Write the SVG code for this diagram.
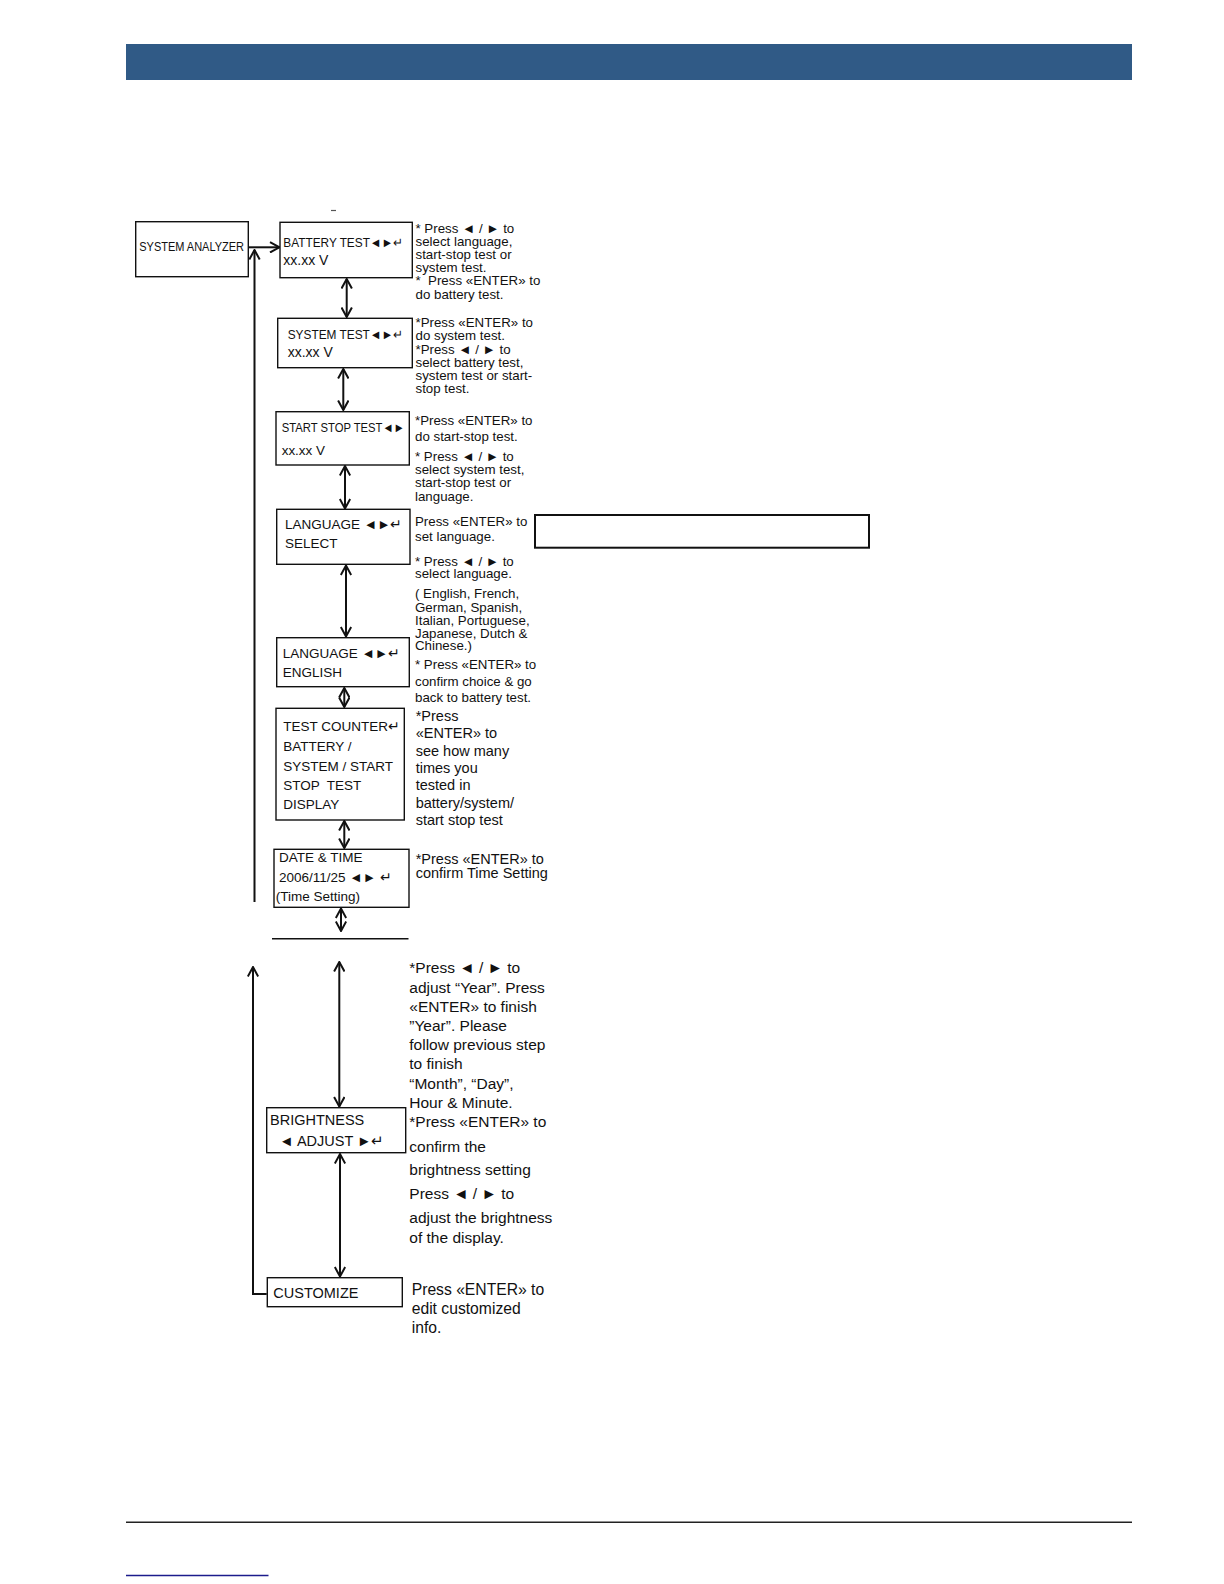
<svg xmlns="http://www.w3.org/2000/svg" width="1224" height="1584" viewBox="0 0 1224 1584">
<style>
.box{fill:#fff;stroke:#111;stroke-width:1.4}
.t{font-family:"Liberation Sans",Arial,sans-serif;fill:#111}
.n13{font-size:13px}
.n135{font-size:13.5px}
.n145{font-size:14.5px}
.s1{font-size:13.3px}
.s2{font-size:14.5px}
.s3{font-size:15.5px}
.c{fill:none;stroke:#111;stroke-width:2}
</style>
<defs>
<marker id="ah" viewBox="0 0 12 12" refX="11" refY="6" markerWidth="12" markerHeight="12" markerUnits="userSpaceOnUse" orient="auto-start-reverse">
<path d="M1.5,0.8 L11,6 L1.5,11.2" fill="none" stroke="#111" stroke-width="2"/>
</marker>
</defs>
<rect x="126" y="44" width="1006" height="36" fill="#305A86"/>
<line x1="331" y1="210.5" x2="336" y2="210.5" stroke="#555" stroke-width="1.2"/>

<g id="connectors">
<line class="c" x1="248.5" y1="247.3" x2="279.5" y2="247.3" marker-end="url(#ah)"/>
<line class="c" x1="254.5" y1="902" x2="254.5" y2="250" marker-end="url(#ah)"/>
<polyline class="c" points="266.7,1294 253,1294 253,967" marker-end="url(#ah)"/>
<line class="c" x1="346.7" y1="279" x2="346.7" y2="317" marker-start="url(#ah)" marker-end="url(#ah)"/>
<line class="c" x1="343.3" y1="369" x2="343.3" y2="410" marker-start="url(#ah)" marker-end="url(#ah)"/>
<line class="c" x1="345" y1="466" x2="345" y2="508.5" marker-start="url(#ah)" marker-end="url(#ah)"/>
<line class="c" x1="346" y1="565.5" x2="346" y2="636.5" marker-start="url(#ah)" marker-end="url(#ah)"/>
<line class="c" x1="344.3" y1="688" x2="344.3" y2="707" marker-start="url(#ah)" marker-end="url(#ah)"/>
<line class="c" x1="344.3" y1="821" x2="344.3" y2="848" marker-start="url(#ah)" marker-end="url(#ah)"/>
<line class="c" x1="341" y1="908.5" x2="341" y2="931" marker-start="url(#ah)" marker-end="url(#ah)"/>
<line x1="272" y1="938.8" x2="408.5" y2="938.8" stroke="#111" stroke-width="1.5"/>
<line class="c" x1="339.3" y1="962" x2="339.3" y2="1106.5" marker-start="url(#ah)" marker-end="url(#ah)"/>
<line class="c" x1="340" y1="1154" x2="340" y2="1276.5" marker-start="url(#ah)" marker-end="url(#ah)"/>
</g>

<g id="system-analyzer">
<rect class="box" x="135.7" y="221.7" width="112.6" height="55"/>
<text class="t n13" x="139.3" y="250.5" textLength="104.7" lengthAdjust="spacingAndGlyphs">SYSTEM ANALYZER</text>
</g>

<g id="battery-test">
<rect class="box" x="280" y="222.3" width="132.3" height="55.4"/>
<text class="t n13" x="283.3" y="246.7" textLength="120" lengthAdjust="spacingAndGlyphs">BATTERY TEST◄►↵</text>
<text class="t" font-size="14" x="283.3" y="265">xx.xx V</text>
</g>

<g id="system-test">
<rect class="box" x="277.7" y="318.3" width="134.6" height="49.4"/>
<text class="t n13" x="287.7" y="339.3" textLength="115.6" lengthAdjust="spacingAndGlyphs">SYSTEM TEST◄►↵</text>
<text class="t" font-size="14" x="287.7" y="357.3">xx.xx V</text>
</g>

<g id="start-stop-test">
<rect class="box" x="276" y="411.7" width="133.3" height="53.3"/>
<text class="t n13" x="281.7" y="431.7" textLength="123" lengthAdjust="spacingAndGlyphs">START STOP TEST◄►</text>
<text class="t n13" x="281.7" y="455" textLength="43.3" lengthAdjust="spacingAndGlyphs">xx.xx V</text>
</g>

<g id="language-select">
<rect class="box" x="276.7" y="509.3" width="133.3" height="55"/>
<text class="t n135" x="285" y="529.3">LANGUAGE ◄►↵</text>
<text class="t n135" x="285" y="548.3">SELECT</text>
</g>

<g id="language-english">
<rect class="box" x="276.7" y="637.7" width="132.6" height="49"/>
<text class="t n135" x="282.7" y="658.3">LANGUAGE ◄►↵</text>
<text class="t n135" x="282.7" y="676.7">ENGLISH</text>
</g>

<g id="test-counter">
<rect class="box" x="276" y="708.3" width="128.3" height="111.7"/>
<text class="t n135" x="283.3" y="730.7">TEST COUNTER↵</text>
<text class="t n135" x="283.3" y="750.7">BATTERY /</text>
<text class="t n135" x="283.3" y="770.7">SYSTEM / START</text>
<text class="t n135" x="283.3" y="790" xml:space="preserve">STOP  TEST</text>
<text class="t n135" x="283.3" y="809">DISPLAY</text>
</g>

<g id="date-time">
<rect class="box" x="274" y="849.3" width="135" height="58"/>
<text class="t n135" x="279" y="861.7">DATE &amp; TIME</text>
<text class="t n135" x="279" y="881.7">2006/11/25 ◄► ↵</text>
<text class="t n135" x="275.7" y="901">(Time Setting)</text>
</g>

<g id="brightness">
<rect class="box" x="266.7" y="1107.7" width="139" height="45"/>
<text class="t n145" x="270" y="1125">BRIGHTNESS</text>
<text class="t n145" x="279.3" y="1146">◄ ADJUST ►↵</text>
</g>

<g id="customize">
<rect class="box" x="267.3" y="1277.7" width="135" height="29"/>
<text class="t n145" x="273.3" y="1298.3">CUSTOMIZE</text>
</g>

<g id="note-battery" class="t s1">
<text x="415.5" y="232.7">* Press ◄ / ► to</text>
<text x="415.5" y="246">select language,</text>
<text x="415.5" y="259">start-stop test or</text>
<text x="415.5" y="272">system test.</text>
<text x="415.5" y="285" xml:space="preserve">*  Press «ENTER» to</text>
<text x="415.5" y="298.7">do battery test.</text>
</g>

<g id="note-system" class="t s1">
<text x="415.5" y="327.3">*Press «ENTER» to</text>
<text x="415.5" y="340">do system test.</text>
<text x="415.5" y="353.7">*Press ◄ / ► to</text>
<text x="415.5" y="367">select battery test,</text>
<text x="415.5" y="380">system test or start-</text>
<text x="415.5" y="393.3">stop test.</text>
</g>

<g id="note-start-stop" class="t s1">
<text x="415" y="425">*Press «ENTER» to</text>
<text x="415" y="440.7">do start-stop test.</text>
<text x="415" y="460.7">* Press ◄ / ► to</text>
<text x="415" y="474">select system test,</text>
<text x="415" y="487.3">start-stop test or</text>
<text x="415" y="500.7">language.</text>
</g>

<g id="note-language" class="t s1">
<text x="415" y="525.7">Press «ENTER» to</text>
<text x="415" y="540.7">set language.</text>
<text x="415" y="565.7">* Press ◄ / ► to</text>
<text x="415" y="578.3">select language.</text>
<text x="415" y="598.3">( English, French,</text>
<text x="415" y="611.7">German, Spanish,</text>
<text x="415" y="624.7">Italian, Portuguese,</text>
<text x="415" y="637.7">Japanese, Dutch &amp;</text>
<text x="415" y="650">Chinese.)</text>
<text x="415" y="669.3">* Press «ENTER» to</text>
<text x="415" y="686">confirm choice &amp; go</text>
<text x="415" y="702">back to battery test.</text>
</g>

<rect x="535" y="515" width="334" height="32.7" fill="none" stroke="#111" stroke-width="2"/>

<g id="note-counter" class="t s2">
<text x="415.7" y="720.7">*Press</text>
<text x="415.7" y="738.3">«ENTER» to</text>
<text x="415.7" y="755.7">see how many</text>
<text x="415.7" y="773.3">times you</text>
<text x="415.7" y="790">tested in</text>
<text x="415.7" y="808.3">battery/system/</text>
<text x="415.7" y="825">start stop test</text>
</g>

<g id="note-date" class="t s2">
<text x="415.7" y="864">*Press «ENTER» to</text>
<text x="415.7" y="878.3">confirm Time Setting</text>
</g>

<g id="note-year" class="t s3">
<text x="409.3" y="973.3">*Press ◄ / ► to</text>
<text x="409.3" y="992.7">adjust “Year”. Press</text>
<text x="409.3" y="1011.7">«ENTER» to finish</text>
<text x="409.3" y="1031">”Year”. Please</text>
<text x="409.3" y="1050.3">follow previous step</text>
<text x="409.3" y="1069.3">to finish</text>
<text x="409.3" y="1088.7">“Month”, “Day”,</text>
<text x="409.3" y="1108">Hour &amp; Minute.</text>
<text x="409.3" y="1126.7">*Press «ENTER» to</text>
<text x="409.3" y="1151.7">confirm the</text>
<text x="409.3" y="1175">brightness setting</text>
<text x="409.3" y="1199.3">Press ◄ / ► to</text>
<text x="409.3" y="1223.3">adjust the brightness</text>
<text x="409.3" y="1243.3">of the display.</text>
</g>

<g id="note-customize" class="t" font-size="15.7">
<text x="411.7" y="1295">Press «ENTER» to</text>
<text x="411.7" y="1314">edit customized</text>
<text x="411.7" y="1332.7">info.</text>
</g>

<line x1="126" y1="1522.3" x2="1132" y2="1522.3" stroke="#222" stroke-width="1.4"/>
<line x1="126" y1="1575.5" x2="268.5" y2="1575.5" stroke="#1c1c8c" stroke-width="1.6"/>
</svg>
